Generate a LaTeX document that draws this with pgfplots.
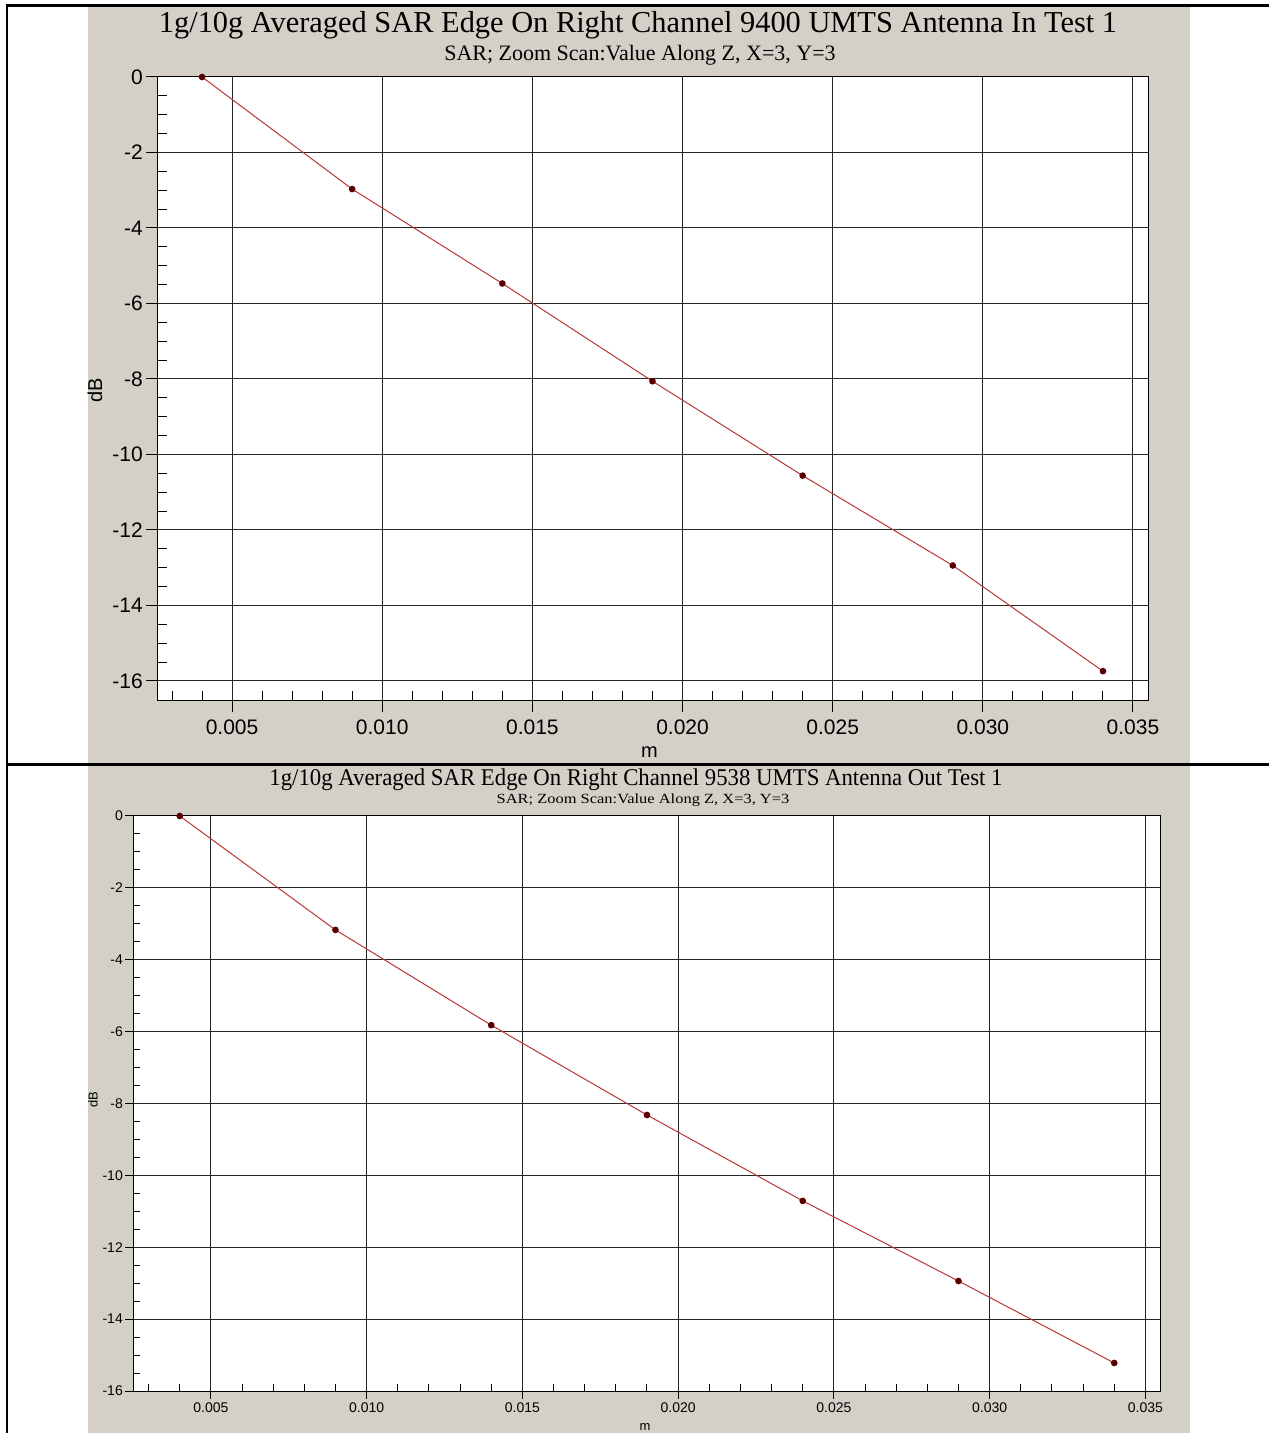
\documentclass[border=0pt]{standalone}
\usepackage{fontspec}
\setmainfont{Liberation Serif}
\newfontfamily\arial{Liberation Sans}
\usepackage{pgfplots}
\pgfplotsset{compat=1.18}
\definecolor{panelgray}{RGB}{212,208,200}
\definecolor{sarline}{RGB}{185,55,55}
\definecolor{sarmark}{RGB}{90,0,0}
\pgfplotsset{
  sarbase/.style={
    anchor=south west, scale only axis,
    xmin=0.0025, xmax=0.0355,
    scaled x ticks=false, scaled y ticks=false,
    xtick={0.005,0.010,0.015,0.020,0.025,0.030,0.035},
    xticklabels={0.005,0.010,0.015,0.020,0.025,0.030,0.035},
    ytick={-16,-14,-12,-10,-8,-6,-4,-2,0},
    yticklabels={-16,-14,-12,-10,-8,-6,-4,-2,0},
    minor xtick={0.003,0.004,0.006,0.007,0.008,0.009,0.011,0.012,0.013,0.014,0.016,0.017,0.018,0.019,0.021,0.022,0.023,0.024,0.026,0.027,0.028,0.029,0.031,0.032,0.033,0.034},
    minor ytick={-15.5,-15,-14.5,-13.5,-13,-12.5,-11.5,-11,-10.5,-9.5,-9,-8.5,-7.5,-7,-6.5,-5.5,-5,-4.5,-3.5,-3,-2.5,-1.5,-1,-0.5},
    xtick pos=left, ytick pos=left,
    tick align=inside,
    grid=major,
    major grid style={black!85, line width=1pt},
    axis line style={black, line width=1pt},
    every tick/.style={black, line width=1pt},
    axis background/.style={fill=white},
  },
  sarplot/.style={color=sarline, line width=1pt, mark=*, mark size=2.8pt,
    mark options={fill=sarmark, draw=sarmark, solid}},
}
\begin{document}
\begin{tikzpicture}[x=1pt,y=1pt]
\useasboundingbox (0pt,0pt) rectangle (1269pt,1433pt);
\fill[white] (0pt,0pt) rectangle (1269pt,1433pt);
\fill[panelgray] (88pt,669pt) rectangle (1190pt,1427pt);
\fill[panelgray] (88pt,0pt) rectangle (1190pt,667pt);
\draw[line width=2.5pt] (6pt,1427.7pt) -- (1269pt,1427.7pt);
\draw[line width=2.5pt] (6pt,668.5pt) -- (1269pt,668.5pt);
\draw[line width=2pt] (7pt,0pt) -- (7pt,1429pt);

\node[font=\fontsize{30.4}{30.4}\selectfont] at (638pt,1408pt) {1g/10g Averaged SAR Edge On Right Channel 9400 UMTS Antenna In Test 1};
\node[font=\fontsize{22}{22}\selectfont] at (640pt,1378pt) {SAR; Zoom Scan:Value Along Z, X=3, Y=3};

\begin{axis}[sarbase,
  at={(157pt,732pt)}, width=991pt, height=624pt,
  ymin=-16.53, ymax=0,
  major tick length=-11pt, minor tick length=10pt,
  ticklabel style={font=\arial\fontsize{21}{21}\selectfont},
  yticklabel style={anchor=east, inner sep=0pt, xshift=-14pt},
  xticklabel style={anchor=north, inner sep=0pt, yshift=-19pt},
  xlabel={m}, ylabel={dB},
  xlabel style={font=\arial\fontsize{20}{20}\selectfont, at={(axis description cs:0.497,-0.0817)}, anchor=center},
  ylabel style={font=\arial\fontsize{20}{20}\selectfont, at={(axis description cs:-0.0626,0.498)}, anchor=center},
]
\addplot[sarplot] coordinates {
(0.004,0) (0.009,-2.97) (0.014,-5.47) (0.019,-8.06) (0.024,-10.56) (0.029,-12.94) (0.034,-15.74)
};
\end{axis}

\node[font=\fontsize{24}{24}\selectfont, transform shape, xscale=0.949] at (636pt,653pt) {1g/10g Averaged SAR Edge On Right Channel 9538 UMTS Antenna Out Test 1};
\node[font=\fontsize{14}{14}\selectfont, transform shape, xscale=1.175] at (643pt,633pt) {SAR; Zoom Scan:Value Along Z, X=3, Y=3};

\begin{axis}[sarbase,
  at={(133pt,42pt)}, width=1028pt, height=575pt,
  ymin=-16, ymax=0,
  major tick length=-8pt, minor tick length=7pt,
  ticklabel style={font=\arial\fontsize{14}{14}\selectfont},
  yticklabel style={anchor=east, inner sep=0pt, xshift=-10pt},
  xticklabel style={anchor=north, inner sep=0pt, yshift=-12pt},
  xlabel={m}, ylabel={dB},
  xlabel style={font=\arial\fontsize{13}{13}\selectfont, at={(axis description cs:0.498,-0.0626)}, anchor=center},
  ylabel style={font=\arial\fontsize{13}{13}\selectfont, at={(axis description cs:-0.0389,0.506)}, anchor=center},
]
\addplot[sarplot] coordinates {
(0.004,0) (0.009,-3.17) (0.014,-5.82) (0.019,-8.32) (0.024,-10.71) (0.029,-12.94) (0.034,-15.22)
};
\end{axis}
\end{tikzpicture}
\end{document}
